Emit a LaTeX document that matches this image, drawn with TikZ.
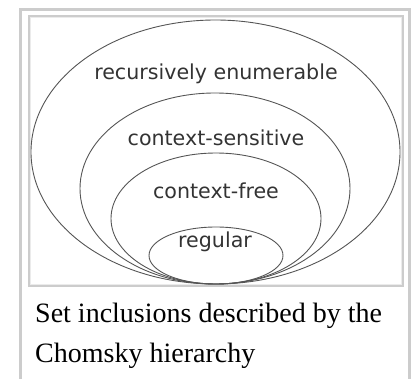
\documentclass[tikz,border=0pt]{standalone}
\usepackage{fontspec}
\setmainfont{Liberation Serif}
\newfontfamily\setfont{DejaVu Sans}
\definecolor{framegray}{HTML}{CCCCCC}
\definecolor{linegray}{HTML}{555555}
\definecolor{textgray}{HTML}{333333}

\begin{document}
\begin{tikzpicture}[x=1pt, y=-1pt,
    set/.style={draw=linegray, line width=0.9pt},
    lbl/.style={anchor=base, text=textgray, inner sep=0pt, font=\setfont\fontsize{20.6}{24}\selectfont},
    caption/.style={anchor=base west, inner sep=0pt, font=\fontsize{28}{40}\selectfont}]
		\useasboundingbox (0,0) rectangle (412,379);
		% frames
		\draw [framegray, line width=3pt] (20.5,385) -- (20.5,9.5) -- (409.5,9.5) -- (409.5,385);
		\draw [framegray, line width=2pt] (29,16) rectangle (402.7,286);
		\draw [framegray!40, line width=1pt] (30.5,17.5) rectangle (401.2,284.5);

		% nested sets
		\draw [set] (215.5,152) ellipse [x radius=184.5, y radius=132];
		\draw [set] (215,188.5) ellipse [x radius=135, y radius=95.5];
		\draw [set] (216,218.5) ellipse [x radius=105, y radius=65.5];
		\draw [set] (216,255.5) ellipse [x radius=67, y radius=28.5];

		\node[lbl] (re) at (216,80) {recursively enumerable};
		\node[lbl] (cs) at (216,146) {context-sensitive};
		\node[lbl] (cf) at (216,199) {context-free};
		\node[lbl] (reg) at (215,248) {regular};

		\node[caption] (cap1) at (35,322) {Set inclusions described by the};
		\node[caption] (cap2) at (35,362) {Chomsky hierarchy};
	\end{tikzpicture}
\end{document}
